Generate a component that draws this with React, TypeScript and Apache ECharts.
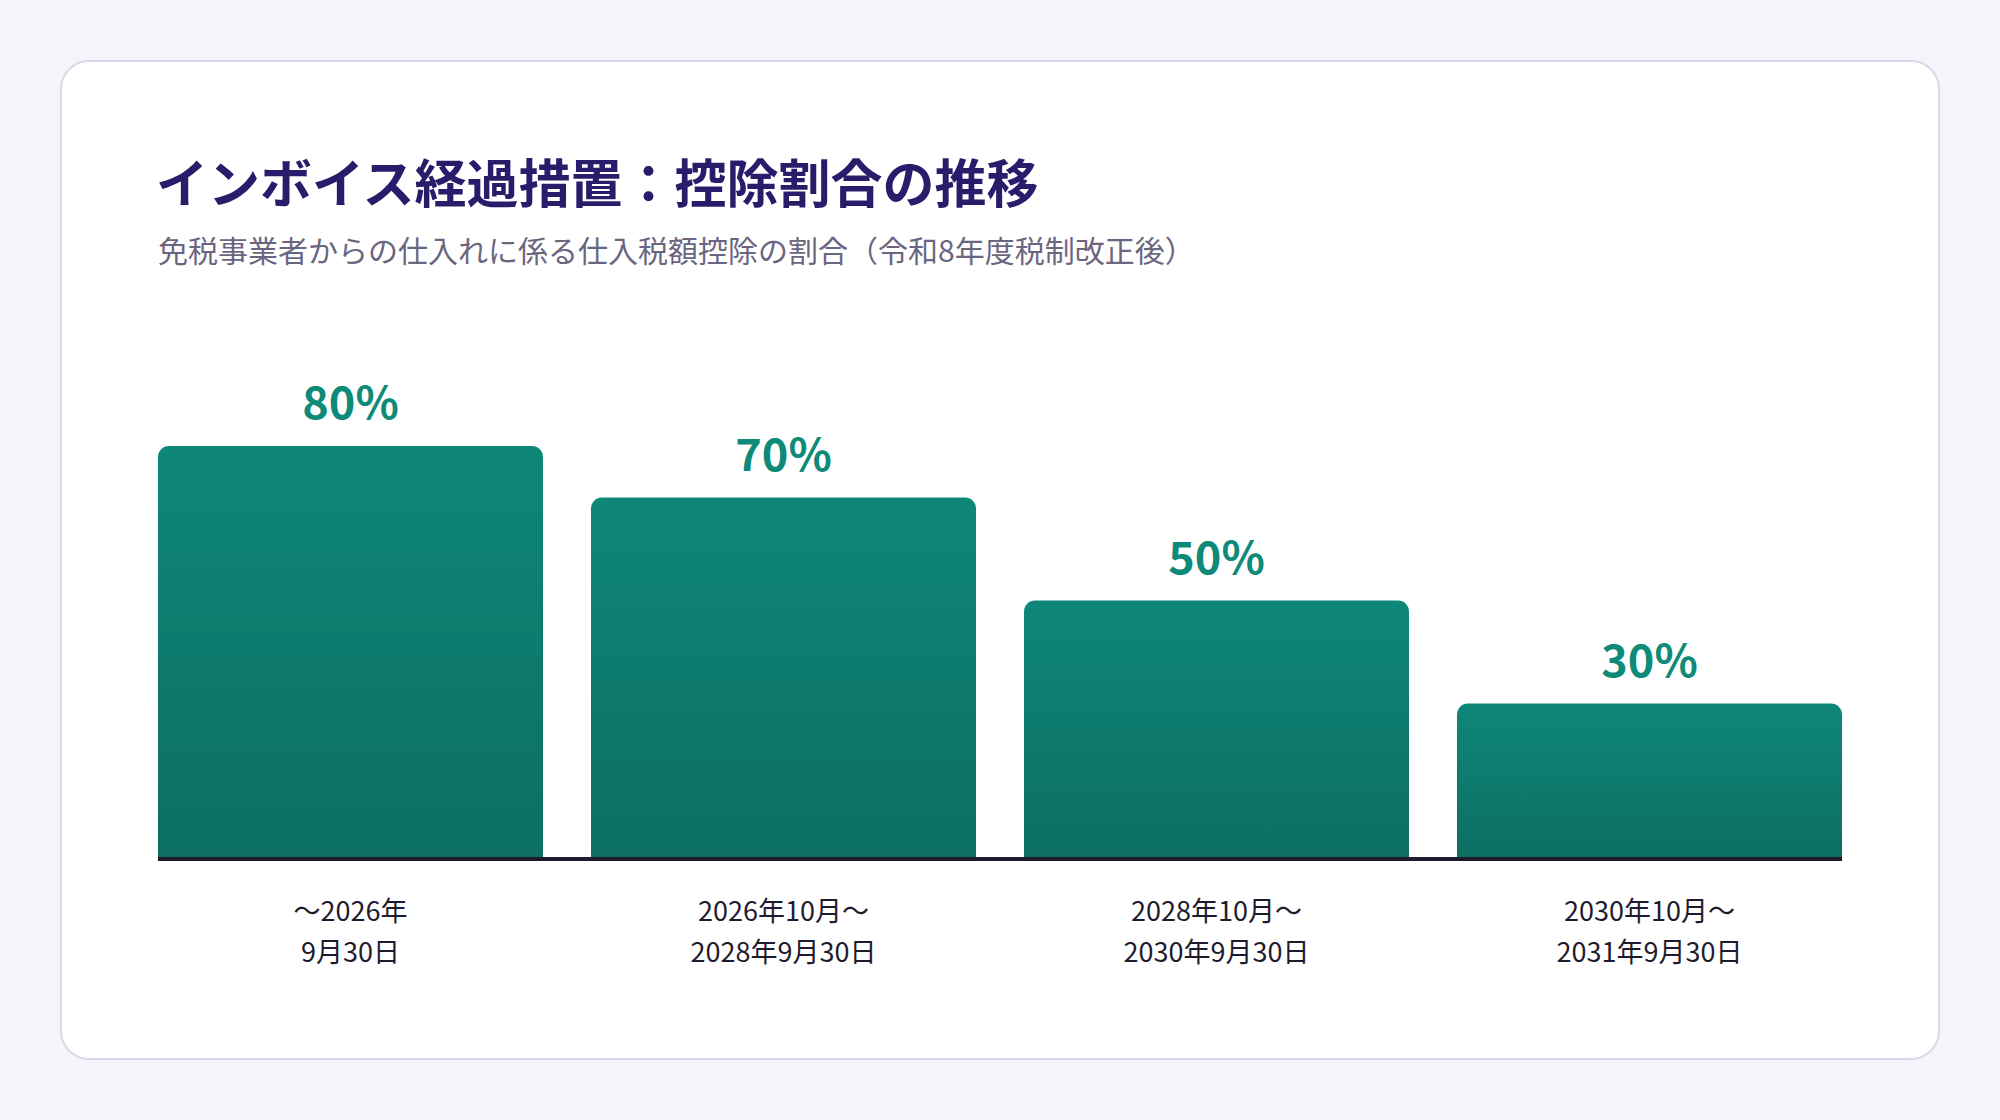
import React, { useEffect, useRef } from "react";
import * as echarts from "echarts";

const categories = [
  "〜2026年\n9月30日",
  "2026年10月〜\n2028年9月30日",
  "2028年10月〜\n2030年9月30日",
  "2030年10月〜\n2031年9月30日",
];
const values = [80, 70, 50, 30];
const titleText = "インボイス経過措置：控除割合の推移";
const subtitleText = "免税事業者からの仕入れに係る仕入税額控除の割合（令和8年度税制改正後）";

const FONT = '"Noto Sans CJK JP", "Noto Sans", sans-serif';

export default function App() {
  const ref = useRef<HTMLDivElement>(null);
  useEffect(() => {
    if (!ref.current) return;
    const chart = echarts.init(ref.current, null, { renderer: "svg", width: 2000, height: 1120 });
    chart.setOption({
      animation: false,
      backgroundColor: "#f5f4fa",
      textStyle: { fontFamily: FONT },
      graphic: [
        {
          type: "rect",
          z: -10,
          shape: { x: 61, y: 61, width: 1878, height: 998, r: 28 },
          style: { fill: "#ffffff", stroke: "#dcd6ec", lineWidth: 2 },
        },
        {
          type: "rect",
          z: 100,
          shape: { x: 158, y: 857, width: 1684, height: 4 },
          style: { fill: "#1f1b2e" },
        },
      ],
      title: [
        {
          text: titleText,
          left: 151,
          top: 149,
          textStyle: { fontFamily: FONT, fontSize: 52, fontWeight: 700, color: "#2b1b6b" },
        },
        {
          text: subtitleText,
          left: 153,
          top: 229,
          textStyle: { fontFamily: FONT, fontSize: 30, fontWeight: 400, color: "#6b6680" },
        },
      ],
      grid: { left: 134, right: 134, top: 343, bottom: 262, containLabel: false },
      xAxis: {
        type: "category",
        data: categories,
        axisLine: { show: false },
        axisTick: { show: false },
        axisLabel: {
          margin: 31,
          fontFamily: FONT,
          fontSize: 27,
          lineHeight: 41,
          color: "#1f1b2e",
          interval: 0,
        },
      },
      yAxis: {
        type: "value",
        min: 0,
        max: 100,
        show: false,
        splitLine: { show: false },
      },
      series: [
        {
          type: "bar",
          data: values,
          barWidth: 385,
          itemStyle: {
            borderRadius: [11, 11, 0, 0],
            color: new echarts.graphic.LinearGradient(0, 0, 0, 1, [
              { offset: 0, color: "#0e8778" },
              { offset: 1, color: "#0c6f62" },
            ]),
          },
          label: {
            show: true,
            position: "top",
            distance: 24,
            formatter: "{c}%",
            fontFamily: FONT,
            fontSize: 45,
            fontWeight: 700,
            color: "#0e8a78",
          },
        },
      ],
    });
    return () => chart.dispose();
  }, []);
  return (
    <div
      ref={ref}
      style={{ position: "fixed", left: 0, top: 0, width: 2000, height: 1120 }}
    />
  );
}
